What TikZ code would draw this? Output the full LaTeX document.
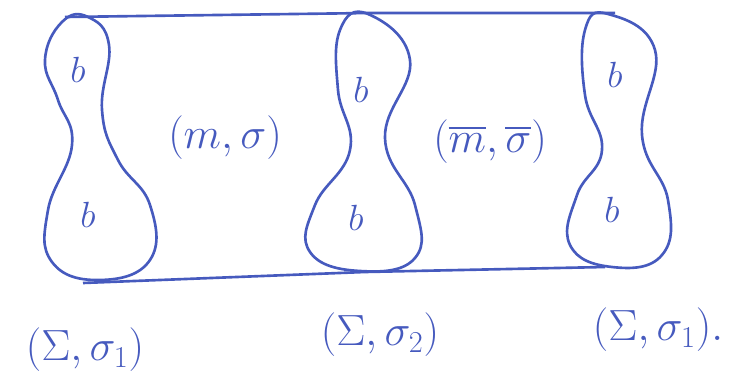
\documentclass[tikz,border=0pt]{standalone}
\usepackage{amsmath}
\definecolor{ink}{RGB}{70,90,190}
\begin{document}
\begin{tikzpicture}[x=0.02cm,y=-0.02cm, line width=1.5pt, ink]
    \useasboundingbox (0,0) rectangle (751,392);
    % Top and bottom edges
    \draw (65,17) -- (370,13) -- (615,13);
    \draw (83,283) -- (365,272) -- (605,267);
    % Left peanut
    \draw plot[smooth cycle, tension=0.75] coordinates {(88,17) (109,45) (102,110) (118,160) (150,205) (150,260) (100,280) (52,262) (48,210) (72,145) (58,100) (45,60) (62,22)};
    % Middle peanut
    \draw plot[smooth cycle, tension=0.75] coordinates {(368,14) (410,60) (385,138) (415,205) (415,258) (360,271) (310,252) (315,205) (350,150) (338,90) (340,30)};
    % Right peanut
    \draw plot[smooth cycle, tension=0.75] coordinates {(608,14) (655,50) (642,135) (668,200) (662,255) (612,267) (570,245) (577,195) (602,150) (585,95) (585,30)};
    % Lobe labels
    \node[font=\fontsize{22}{26}\selectfont] (lt) at (78,70) {$b$};
    \node[font=\fontsize{22}{26}\selectfont] (lb) at (88,215) {$b$};
    \node[font=\fontsize{22}{26}\selectfont] (mt) at (361,90) {$b$};
    \node[font=\fontsize{22}{26}\selectfont] (mb) at (356,218) {$b$};
    \node[font=\fontsize{22}{26}\selectfont] (rt) at (615,75) {$b$};
    \node[font=\fontsize{22}{26}\selectfont] (rb) at (612,210) {$b$};
    % Region labels
    \node[font=\fontsize{25}{30}\selectfont] (left) at (225,138) {$(m,\sigma)$};
    \node[font=\fontsize{25}{30}\selectfont] (right) at (490,142) {$(\overline{m},\overline{\sigma})$};
    % Boundary labels
    \node[font=\fontsize{25}{30}\selectfont] (s1) at (85,350) {$(\Sigma,\sigma_1)$};
    \node[font=\fontsize{25}{30}\selectfont] (s2) at (380,335) {$(\Sigma,\sigma_2)$};
    \node[font=\fontsize{25}{30}\selectfont] (s3) at (658,330) {$(\Sigma,\sigma_1).$};
\end{tikzpicture}
\end{document}
